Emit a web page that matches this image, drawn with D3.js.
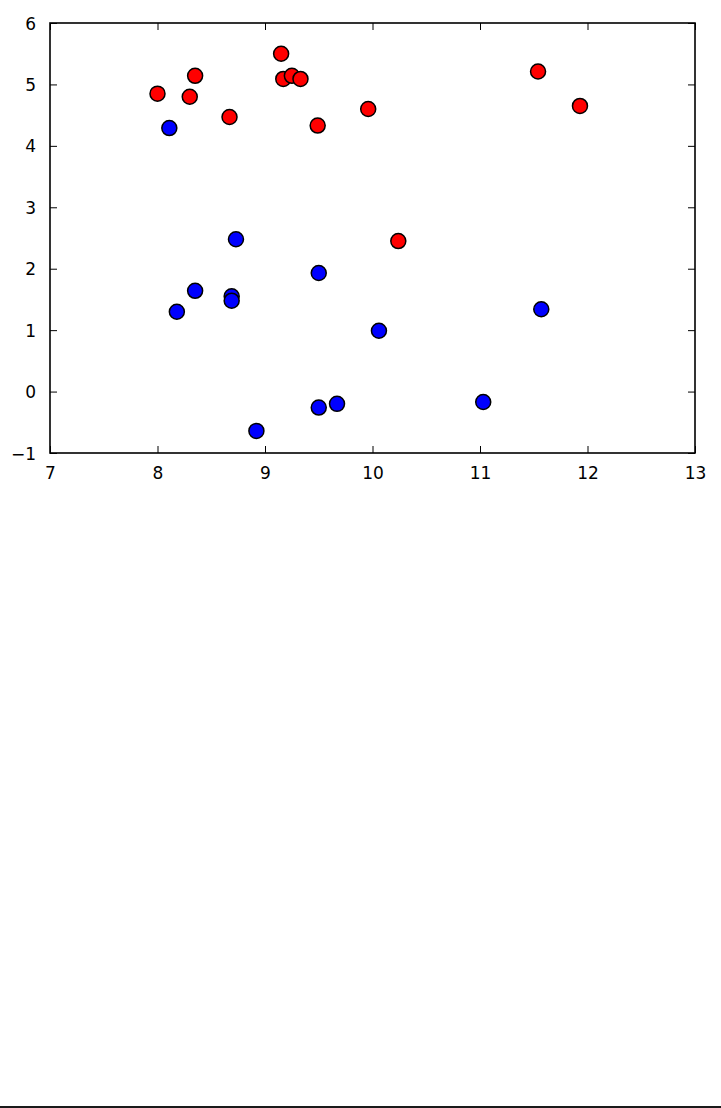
<!DOCTYPE html>
<html>
<head>
<meta charset="utf-8">
<script src="https://cdn.jsdelivr.net/npm/d3@7"></script>
<style>
  html, body { margin: 0; padding: 0; background: #fff; }
  svg { display: block; }
  .tick text { font-family: "DejaVu Sans", sans-serif; font-size: 17px; fill: #000; }
</style>
</head>
<body>
<script>
// ---- data ----
const redX = [8.00, 8.30, 8.35, 8.67, 9.15, 9.17, 9.25, 9.33, 9.49, 9.96, 10.24, 11.54, 11.93];
const redY = [4.85, 4.80, 5.14, 4.47, 5.50, 5.09, 5.14, 5.09, 4.33, 4.60, 2.45, 5.21, 4.65];
const blueX = [8.11, 8.18, 8.35, 8.69, 8.69, 8.73, 9.50, 10.06, 8.92, 9.50, 9.67, 11.03, 11.57];
const blueY = [4.29, 1.30, 1.64, 1.55, 1.48, 2.48, 1.93, 0.99, -0.64, -0.26, -0.20, -0.17, 1.34];
const xTicks = [7, 8, 9, 10, 11, 12, 13];
const yTicks = [-1, 0, 1, 2, 3, 4, 5, 6];
const xDomain = [7, 13];
const yDomain = [-1, 6];

// ---- layout ----
const W = 721, H = 1108;
const pL = 50, pR = 695, pT = 23, pB = 453;

const svg = d3.select("body").append("svg").attr("width", W).attr("height", H);

const x = d3.scaleLinear().domain(xDomain).range([pL, pR]);
const y = d3.scaleLinear().domain(yDomain).range([pB, pT]);

const tickLen = 7;
const fmt = d => d < 0 ? "\u2212" + Math.abs(d) : String(d);

const gx = svg.append("g").attr("transform", `translate(0,${pB})`)
  .call(d3.axisBottom(x).tickValues(xTicks).tickFormat(fmt).tickSize(-tickLen).tickPadding(14));
const gxt = svg.append("g").attr("transform", `translate(0,${pT})`)
  .call(d3.axisTop(x).tickValues(xTicks).tickFormat("").tickSize(-tickLen));
const gy = svg.append("g").attr("transform", `translate(${pL},0)`)
  .call(d3.axisLeft(y).tickValues(yTicks).tickFormat(fmt).tickSize(-tickLen).tickPadding(14));
const gyr = svg.append("g").attr("transform", `translate(${pR},0)`)
  .call(d3.axisRight(y).tickValues(yTicks).tickFormat("").tickSize(-tickLen));

[gx, gxt, gy, gyr].forEach(g => {
  g.select(".domain").remove();
  g.selectAll(".tick line").attr("stroke", "#000").attr("stroke-width", 1);
});
gy.selectAll(".tick text").attr("dy", "0.36em");
gx.selectAll(".tick text").attr("dy", "0.71em");

svg.append("rect")
  .attr("x", pL).attr("y", pT)
  .attr("width", pR - pL).attr("height", pB - pT)
  .attr("fill", "none").attr("stroke", "#000").attr("stroke-width", 1.6);

const red = redX.map((v, i) => ({ x: v, y: redY[i] }));
const blue = blueX.map((v, i) => ({ x: v, y: blueY[i] }));

svg.append("g").selectAll("circle").data(red).join("circle")
  .attr("cx", d => x(d.x)).attr("cy", d => y(d.y)).attr("r", 7.5)
  .attr("fill", "#ff0000").attr("stroke", "#000").attr("stroke-width", 1.5);

svg.append("g").selectAll("circle").data(blue).join("circle")
  .attr("cx", d => x(d.x)).attr("cy", d => y(d.y)).attr("r", 7.5)
  .attr("fill", "#0000ff").attr("stroke", "#000").attr("stroke-width", 1.5);

svg.append("line")
  .attr("x1", 0).attr("x2", W).attr("y1", 1107).attr("y2", 1107)
  .attr("stroke", "#1a1a1a").attr("stroke-width", 2);
</script>
</body>
</html>
